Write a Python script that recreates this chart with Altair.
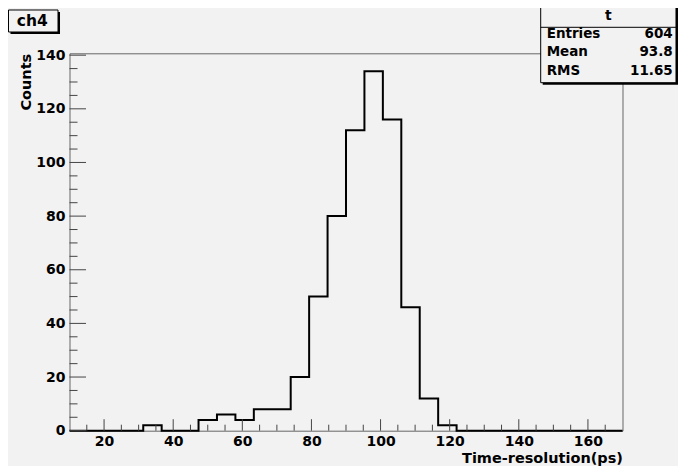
import altair as alt
import pandas as pd
import numpy as np

# ---- data ----
x_min, x_max, n_bins = 10, 170, 30
counts = [0, 0, 0, 0, 2, 0, 0, 4, 6, 4, 8, 8, 20, 50, 80, 112, 134, 116, 46, 12,
          2, 0, 0, 0, 0, 0, 0, 0, 0, 0]
y_max = 140.7
x_major = [20, 40, 60, 80, 100, 120, 140, 160]
x_minor = [15, 25, 30, 35, 45, 50, 55, 65, 70, 75, 85, 90, 95, 105, 110, 115,
           125, 130, 135, 145, 150, 155, 165]
y_major = [0, 20, 40, 60, 80, 100, 120, 140]
y_minor = [5, 10, 15, 25, 30, 35, 45, 50, 55, 65, 70, 75, 85, 90, 95, 105, 110,
           115, 125, 130, 135]
hist_name = "t"
stat_names = ["Entries", "Mean", "RMS"]
stat_values = ["604", "93.8", "11.65"]
title_text = "ch4"
x_title = "Time-resolution(ps)"
y_title = "Counts"

W, H = 553, 377.4
FONT = "DejaVu Sans"
BG = "#f2f2f2"

edges = np.linspace(x_min, x_max, n_bins + 1)
hist = pd.DataFrame({"v": list(edges[:-1]) + [edges[-1]],
                     "c": counts + [0]})

xs = alt.Scale(domain=[x_min, x_max], nice=False, zero=False)
ys = alt.Scale(domain=[0, y_max], nice=False, zero=True)

x_axis = alt.Axis(
    values=x_major, ticks=False, domain=False, grid=False,
    labelPadding=4, labelFont=FONT, labelFontWeight="bold",
    labelFontSize=14, labelColor="black", labelFlush=False,
    title=x_title, titleFont=FONT, titleFontWeight="bold",
    titleFontSize=14.5, titleColor="black", titleX=W, titleY=31.5,
    titleAlign="right", titleBaseline="alphabetic", titleAnchor="end")
y_axis = alt.Axis(
    values=y_major, ticks=False, domain=False, grid=False,
    labelPadding=4.5, labelFont=FONT, labelFontWeight="bold",
    labelFontSize=14, labelColor="black",
    title=y_title, titleFont=FONT, titleFontWeight="bold",
    titleFontSize=14.5, titleColor="black", titleAngle=270,
    titleX=-39.5, titleY=0, titleAlign="right",
    titleBaseline="alphabetic")

line = alt.Chart(hist).mark_line(
    interpolate="step-after", color="black", strokeWidth=2
).encode(
    x=alt.X("v:Q", scale=xs, axis=x_axis),
    y=alt.Y("c:Q", scale=ys, axis=y_axis),
)

TICK = "#444444"

def xticks(vals, length):
    return alt.Chart(pd.DataFrame({"v": vals})).mark_rule(
        color=TICK, strokeWidth=1).encode(
        x=alt.X("v:Q", scale=xs, axis=x_axis),
        y=alt.value(H), y2=alt.value(H - length))

def yticks(vals, length):
    return alt.Chart(pd.DataFrame({"c": vals})).mark_rule(
        color=TICK, strokeWidth=1).encode(
        y=alt.Y("c:Q", scale=ys, axis=y_axis),
        x=alt.value(0), x2=alt.value(length))

one = pd.DataFrame({"a": [0]})

def rect(x1, x2, y1, y2, fill, stroke=None, sw=1):
    kw = dict(fill=fill)
    if stroke is not None:
        kw.update(stroke=stroke, strokeWidth=sw)
    return alt.Chart(one).mark_rect(**kw).encode(
        x=alt.value(x1), x2=alt.value(x2), y=alt.value(y1), y2=alt.value(y2))

def text(s, x, y, size, align="left"):
    return alt.Chart(pd.DataFrame({"t": [s]})).mark_text(
        font=FONT, fontWeight="bold", fontSize=size, color="black",
        align=align, baseline="alphabetic").encode(
        text="t:N", x=alt.value(x), y=alt.value(y))

# stats box (relative to plot origin)
sx1, sx2, sy1, sy2 = 471.2, 606.5, -48, 29.4
stats_layers = [
    rect(sx1 + 2, sx2 + 2, sy1 + 2, sy2 + 2, "black"),
    rect(sx1, sx2, sy1, sy2, BG, "black", 1),
    alt.Chart(one).mark_rule(color="black", strokeWidth=1).encode(
        x=alt.value(sx1), x2=alt.value(sx2), y=alt.value(-26)),
    text(hist_name, (sx1 + sx2) / 2, -33.3, 14, "center"),
]
row_y = [-15.6, 3.2, 21.6]
for name, val, yy in zip(stat_names, stat_values, row_y):
    stats_layers.append(text(name, 477.2, yy, 13.5, "left"))
    stats_layers.append(text(val, 603.2, yy, 13.5, "right"))

# title box
tx1, tx2, ty1, ty2 = -61, -11.5, -43.3, -21.3
title_layers = [
    rect(tx1 + 2, tx2 + 2, ty1 + 2, ty2 + 2, "black"),
    rect(tx1, tx2, ty1, ty2, BG, "black", 1),
    text(title_text, -52.8, -27.4, 15.5, "left"),
]

chart = alt.layer(
    line,
    xticks(x_major, 11.5), xticks(x_minor, 6),
    yticks(y_major, 16.5), yticks(y_minor, 8),
    *stats_layers, *title_layers,
).properties(
    width=W, height=H, background=BG,
    padding={"left": 61.5, "top": 45.3, "right": 55, "bottom": 35},
    autosize=alt.AutoSizeParams(type="none"),
).configure_view(stroke="#666666", strokeWidth=1)

chart.save("out.html", embed_options={"renderer": "svg", "actions": False})
